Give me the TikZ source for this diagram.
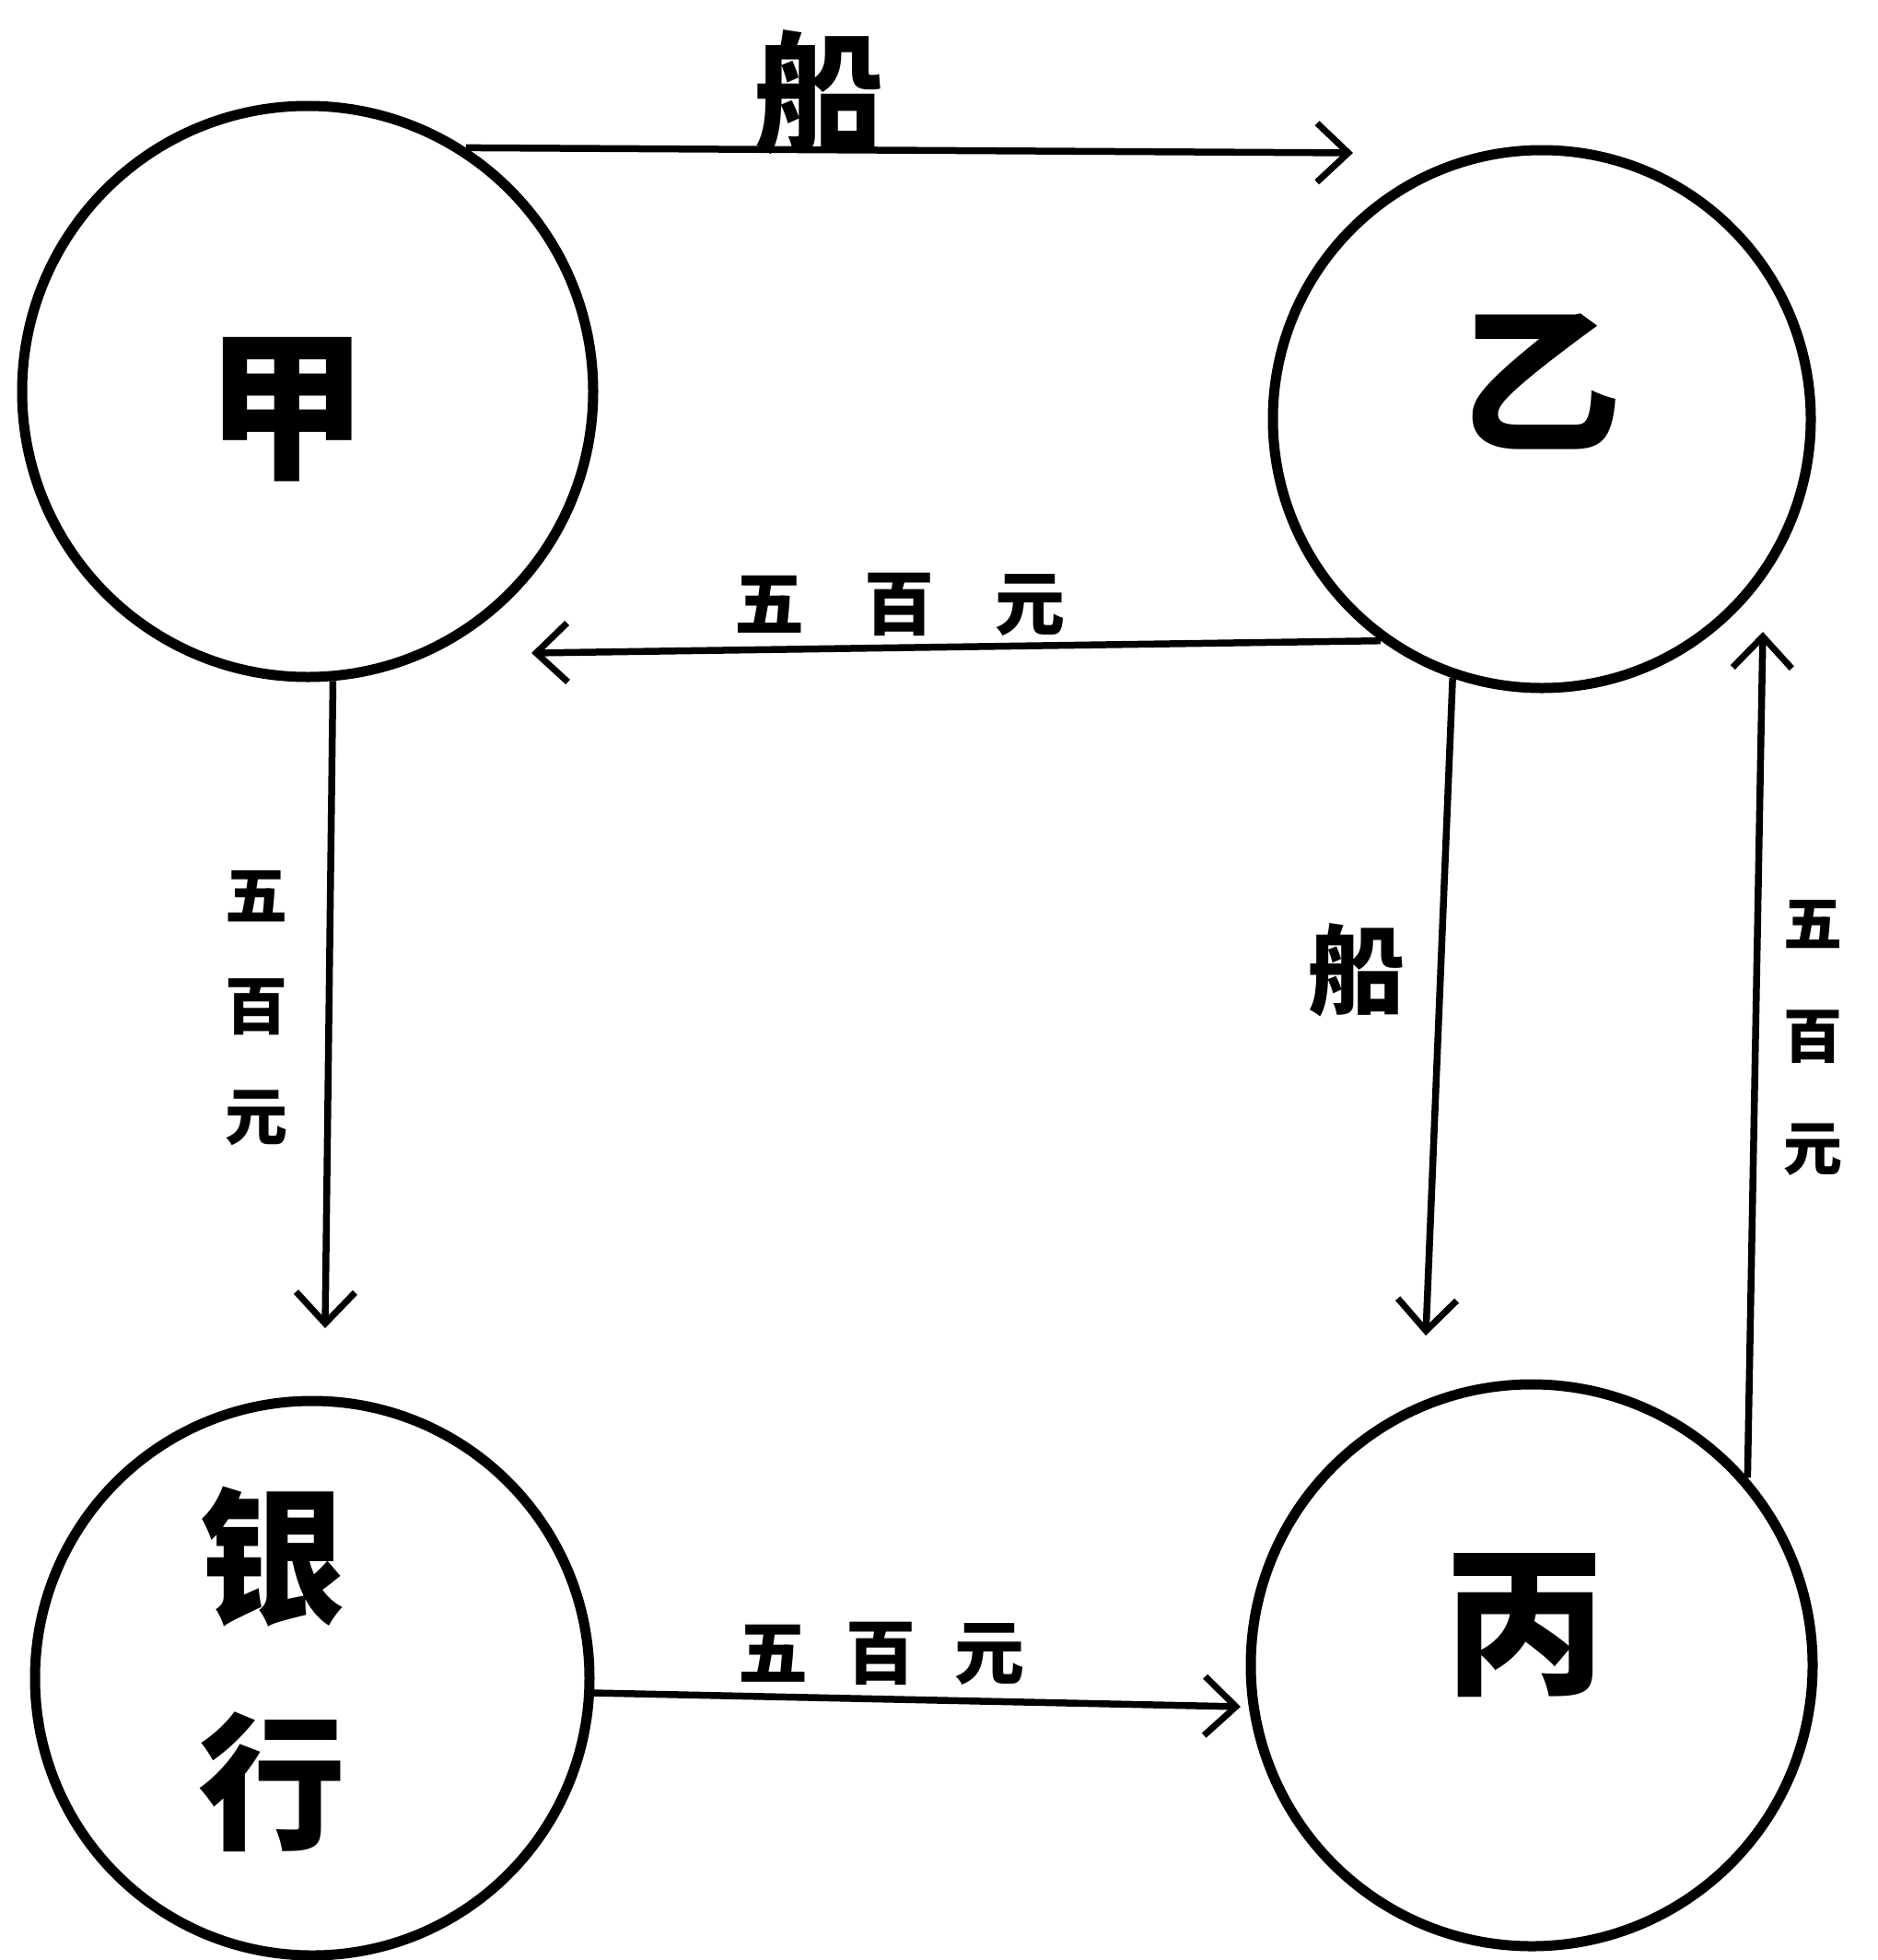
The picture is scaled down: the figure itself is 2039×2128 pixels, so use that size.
\documentclass[tikz,border=0pt]{standalone}
\usepackage{fontspec}
\newfontfamily\cjk{Noto Sans CJK SC}
\usetikzlibrary{arrows.meta}
\begin{document}
\begin{tikzpicture}[x=1pt,y=-1pt,
  party/.style={circle,draw,line width=11pt,inner sep=0pt,minimum size=#1},
  flow/.style={line width=7.5pt,-{Straight Barb[length=34pt,width=64pt,line width=7pt]}},
  bigtxt/.style={font=\cjk\bfseries\fontsize{175}{245}\selectfont,align=center,inner sep=0pt},
  shiptxt/.style={font=\cjk\bfseries\fontsize{#1}{#1}\selectfont,inner sep=0pt},
  moneyh/.style={font=\cjk\bfseries\fontsize{76}{76}\selectfont,inner sep=0pt},
  moneyv/.style={font=\cjk\bfseries\fontsize{68}{120}\selectfont,align=center,inner sep=0pt}]
\useasboundingbox[fill=white] (0,0) rectangle (2039,2128);
% parties
\node[party=620pt] (jia) at (334,425) {};
\node[party=584pt] (yi) at (1674,455) {};
\node[party=602pt] (yh) at (339,1822) {};
\node[party=610pt] (bing) at (1663,1808) {};
\node[bigtxt] (jiaT) at (311,445) {甲};
\node[bigtxt] (yiT) at (1673,414) {乙};
\node[bigtxt,font=\cjk\bfseries\fontsize{160}{245}\selectfont] (yhT) at (295,1812) {银\\行};
\node[bigtxt] (bingT) at (1656,1765) {丙};
% arrow tips
\coordinate (tipA) at (1469,166);
\coordinate (tipB) at (577,709);
\coordinate (tipC) at (353,1442);
\coordinate (tipD) at (1548,1450);
\coordinate (tipE) at (1914,686);
\coordinate (tipF) at (1347,1853);
% connectors
\draw[flow] (jia.57) -- (tipA);
\draw[flow] (yi.234) -- (tipB);
\draw[flow] (jia.275) -- (tipC);
\draw[flow] (yi.251) -- (tipD);
\draw[flow] (bing.41) -- (tipE);
\draw[flow] (yh.357) -- (tipF);
% labels
\node[shiptxt=140] (lA) at (889,100) {船};
\node[moneyh] (lB) at (977,656) {五\hspace{66pt}百\hspace{66pt}元};
\node[moneyv] (lC) at (278,1095) {五\\百\\元};
\node[shiptxt=105] (lD) at (1473,1053) {船};
\node[moneyv,font=\cjk\bfseries\fontsize{64}{122}\selectfont] (lE) at (1968,1127) {五\\百\\元};
\node[moneyh] (lF) at (957,1795) {五\hspace{42pt}百\hspace{42pt}元};
\end{tikzpicture}
\end{document}
